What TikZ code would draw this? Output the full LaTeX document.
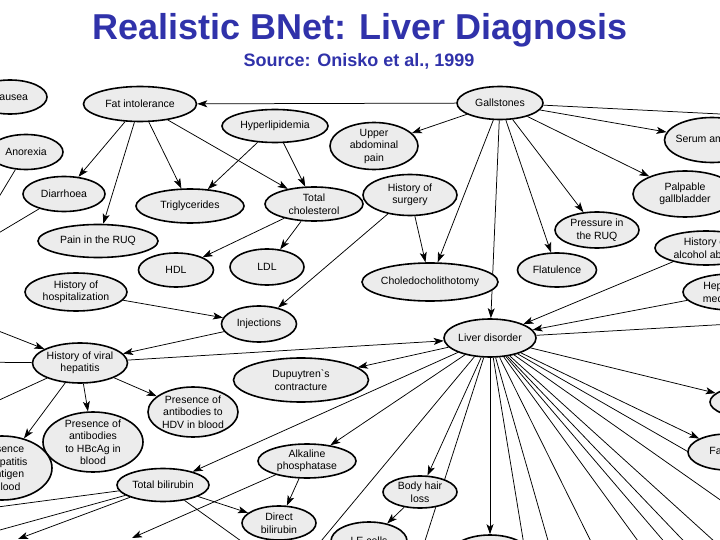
\documentclass[tikz,border=0pt]{standalone}
\usepackage{fontspec}
\setmainfont{Liberation Sans}
\usetikzlibrary{shapes.geometric,arrows.meta}
\definecolor{titleblue}{RGB}{48,50,170}
\definecolor{nodefill}{RGB}{236,236,236}
\pgfdeclarelayer{bg}
\pgfsetlayers{bg,main}
\tikzset{
  ell/.style={ellipse, draw=black, line width=1.6pt, fill=nodefill, inner sep=0pt},
  lab/.style={font=\fontsize{10.5}{12.5}\selectfont, align=center, inner sep=0pt},
  arr/.style={-{Stealth[length=10pt,width=7pt,inset=2.5pt]}, line width=0.75pt},
  ln/.style={line width=0.75pt},
}
\newcommand{\bnode}[6]{\node[ell, minimum width=#4pt, minimum height=#5pt, label={[lab]center:{#6}}] (#1) at (#2,#3) {};}
\begin{document}
\begin{tikzpicture}[x=1pt,y=-1pt]
\useasboundingbox (0,0) rectangle (720,540);
\clip (0,0) rectangle (720,540);
\node[font=\bfseries\fontsize{36}{40}\selectfont, text=titleblue] (title) at (360,30) {Realistic BNet: Liver Diagnosis};
\node[font=\bfseries\fontsize{18}{20}\selectfont, text=titleblue] (sub) at (359,61) {Source: Onisko et al., 1999};

\bnode{nausea}{10}{97}{74}{34}{Nausea}
\bnode{anorexia}{26}{152}{74}{35}{Anorexia}
\bnode{fat}{140}{104}{113}{35}{Fat intolerance}
\bnode{diarrhoea}{64}{194}{82}{35}{Diarrhoea}
\bnode{trig}{190}{206}{108}{34}{Triglycerides}
\bnode{hyper}{275}{126}{106}{33}{Hyperlipidemia}
\bnode{upper}{374}{146}{88}{47}{Upper\\abdominal\\pain}
\bnode{totchol}{314}{204}{98}{34}{Total\\cholesterol}
\bnode{histsurg}{410}{195}{94}{41}{History of\\surgery}
\bnode{gall}{500}{103}{86}{33}{Gallstones}
\bnode{serum}{712}{140}{95}{45}{Serum amylase}
\bnode{palp}{685}{194}{104}{46}{Palpable\\gallbladder}
\bnode{press}{597}{230}{84}{36}{Pressure in\\the RUQ}
\bnode{alcohol}{706}{248}{102}{34}{History of\\alcohol abuse}
\bnode{hepmed}{731}{292}{96}{36}{Hepatotoxic\\medications}
\bnode{painruq}{98}{241}{120}{33}{Pain in the RUQ}
\bnode{hdl}{176}{270}{75}{34}{HDL}
\bnode{ldl}{267}{267}{74}{36}{LDL}
\bnode{hosp}{76}{292}{102}{38}{History of\\hospitalization}
\bnode{inject}{259}{324}{75}{36}{Injections}
\bnode{chole}{430}{282}{136}{38}{Choledocholithotomy}
\bnode{flat}{557}{270}{79}{34}{Flatulence}
\bnode{liver}{490}{338}{92}{38}{Liver disorder}
\bnode{hvh}{80}{363}{95}{40}{History of viral\\hepatitis}
\bnode{dupu}{301}{380}{135}{44}{Dupuytren\textasciigrave s\\contracture}
\bnode{hdv}{193}{412}{90}{50}{Presence of\\antibodies to\\HDV in blood}
\bnode{hbc}{93}{442}{100}{60}{Presence of\\antibodies\\to HBcAg in\\blood}
\bnode{hbs}{2}{468}{100}{64}{Presence\\of hepatitis\\B antigen\\in blood}
\bnode{totbil}{163}{485}{92}{33}{Total bilirubin}
\bnode{alk}{307}{461}{98}{34}{Alkaline\\phosphatase}
\bnode{hair}{420}{492}{74}{32}{Body hair\\loss}
\bnode{dirbil}{279}{523}{74}{34}{Direct\\bilirubin}
\bnode{lecells}{369}{541}{76}{38}{LE cells}
\bnode{bottom}{490}{555}{80}{40}{}
\bnode{fa}{727}{452}{78}{36}{Fatigue}
\bnode{smallr}{752}{402}{84}{32}{}

\coordinate (oGR) at (800,118);
\coordinate (oAn) at (-30,245);
\coordinate (oDi) at (-40,256);
\coordinate (oH1) at (-60,308);
\coordinate (oH2) at (-40,362);
\coordinate (oH3) at (-40,418);
\coordinate (oL1) at (800,320);
\coordinate (oT1) at (-40,512);
\coordinate (oT2) at (-40,541);
\coordinate (oT3) at (18,539);
\coordinate (oT5) at (262,556);
\coordinate (oA1) at (132,538);
\coordinate (f1) at (272,600);
\coordinate (f2) at (406,600);
\coordinate (f3) at (533,600);
\coordinate (f4) at (565,600);
\coordinate (f5) at (620,600);
\coordinate (f6) at (681,600);
\coordinate (f7) at (714,600);
\coordinate (f8) at (740,600);
\coordinate (f9) at (779,600);
\coordinate (f10) at (800,556);
\coordinate (f11) at (800,516);

\begin{pgfonlayer}{bg}
\clip (0,0) rectangle (720,540);
\draw[arr] (gall) -- (fat);
\draw[arr] (gall) -- (upper);
\draw[arr] (gall) -- (serum);
\draw[arr] (gall) -- (palp);
\draw[arr] (gall) -- (press);
\draw[arr] (gall) -- (flat);
\draw[arr] (gall) -- (liver);
\draw[arr] (gall) -- (chole);
\draw[ln] (gall) -- (oGR);
\draw[arr] (fat) -- (diarrhoea);
\draw[arr] (fat) -- (painruq);
\draw[arr] (fat) -- (trig);
\draw[arr] (fat) -- (totchol);
\draw[arr] (hyper) -- (trig);
\draw[arr] (hyper) -- (totchol);
\draw[arr] (totchol) -- (hdl);
\draw[arr] (totchol) -- (ldl);
\draw[arr] (histsurg) -- (chole);
\draw[arr] (histsurg) -- (inject);
\draw[arr] (hosp) -- (inject);
\draw[arr] (inject) -- (hvh);
\draw[arr] (hvh) -- (liver);
\draw[arr] (hvh) -- (hdv);
\draw[arr] (hvh) -- (hbc);
\draw[arr] (hvh) -- (hbs);
\draw[arr] (liver) -- (dupu);
\draw[arr] (liver) -- (totbil);
\draw[arr] (liver) -- (alk);
\draw[arr] (liver) -- (hair);
\draw[arr] (liver) -- (bottom);
\draw[arr] (liver) -- (fa);
\draw[arr] (liver) -- (smallr);
\draw[arr] (alk) -- (dirbil);
\draw[arr] (totbil) -- (dirbil);
\draw[arr] (hair) -- (lecells);
\draw[arr] (alcohol) -- (liver);
\draw[arr] (hepmed) -- (liver);
\draw[ln] (anorexia) -- (oAn);
\draw[ln] (diarrhoea) -- (oDi);
\draw[arr] (oH1) -- (hvh);
\draw[ln] (hvh) -- (oH2);
\draw[ln] (hvh) -- (oH3);
\draw[ln] (liver) -- (oL1);
\draw[ln] (totbil) -- (oT1);
\draw[ln] (totbil) -- (oT2);
\draw[arr] (totbil) -- (oT3);
\draw[ln] (totbil) -- (oT5);
\draw[arr] (alk) -- (oA1);
\foreach \t in {f1,f2,f3,f4,f5,f6,f7,f8,f9,f10,f11} {\draw[ln] (liver) -- (\t);}
\end{pgfonlayer}
\end{tikzpicture}
\end{document}
